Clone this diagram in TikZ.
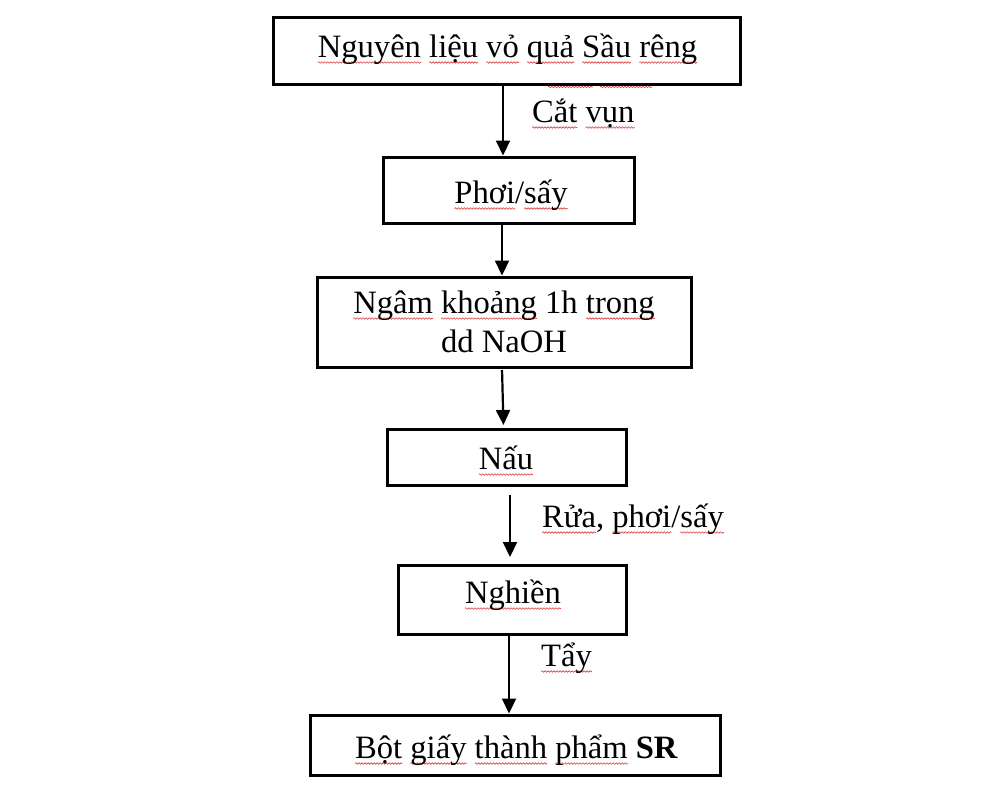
\documentclass[tikz,border=0pt]{standalone}
\usepackage{fontspec}
\setmainfont{Liberation Serif}
\usetikzlibrary{arrows.meta,decorations.pathmorphing}
\definecolor{squig}{rgb}{0.85,0.25,0.25}
\newbox\sqbox
\tikzset{
  lbl/.style={anchor=base, inner sep=0pt, font=\fontsize{32.6}{39}\selectfont},
  sidelbl/.style={lbl, anchor=base west},
  box/.style={draw, line width=3pt, inner sep=0pt},
  arr/.style={line width=2.2pt, -{Triangle[length=15pt,width=14pt]}},
  squigline/.style={draw=squig, line width=0.6pt, decorate, decoration={snake, amplitude=0.8pt, segment length=3pt}}
}
\newcommand\sq[1]{\setbox\sqbox\hbox{#1}\rlap{\tikz[baseline=0pt,x=1pt,y=1pt]{\path (0,0); \draw[squigline, overlay] (0,-5.5) -- (\the\wd\sqbox,-5.5);}}\box\sqbox}
\begin{document}
\begin{tikzpicture}[x=1pt,y=-1pt]
\useasboundingbox (0,0) rectangle (1000,795);
% boxes
\node[box, minimum width=467pt, minimum height=67pt] (b1) at (506.5,50.5) {};
\node[box, minimum width=251pt, minimum height=66pt] (b2) at (508.5,190) {};
\node[box, minimum width=374pt, minimum height=90pt] (b3) at (504,322) {};
\node[box, minimum width=239pt, minimum height=56pt] (b4) at (506.5,457) {};
\node[box, minimum width=228pt, minimum height=69pt] (b5) at (512,599.5) {};
\node[box, minimum width=410pt, minimum height=60pt] (b6) at (515,745) {};
% texts
\node[lbl] (t1) at (507.5,57) {\sq{Nguyên} \sq{liệu} \sq{vỏ} \sq{quả} \sq{Sầu} \sq{rêng}};
\node[lbl] (t2) at (511,203) {\sq{Phơi}/\sq{sấy}};
\node[lbl] (t3a) at (504,313) {\sq{Ngâm} \sq{khoảng} 1h \sq{trong}};
\node[lbl] (t3b) at (504,352) {dd NaOH};
\node[lbl] (t4) at (506,469) {\sq{Nấu}};
\node[lbl] (t5) at (513,603) {\sq{Nghiền}};
\node[lbl] (t6) at (516.5,758) {\sq{Bột} \sq{giấy} \sq{thành} \sq{phẩm} \textbf{SR}};
% side labels
\node[sidelbl] (l1) at (532,122) {\sq{Cắt} \sq{vụn}};
\node[sidelbl] (l2) at (542,527) {\sq{Rửa}, \sq{phơi}/\sq{sấy}};
\node[sidelbl] (l3) at (541,666) {\sq{Tẩy}};
% stray squiggles below top box
\draw[squigline] (548,87) -- (593,87);
\draw[squigline] (600,87) -- (652,87);
% arrow x positions
\coordinate (c1) at (503,0);
\coordinate (c2) at (502,0);
\coordinate (c3a) at (502,0);
\coordinate (c3b) at (503.5,0);
\coordinate (c4) at (510,0);
\coordinate (c5) at (509,0);
% arrows
\draw[arr] (b1.south -| c1) -- (b2.north -| c1);
\draw[arr] (b2.south -| c2) -- (b3.north -| c2);
\draw[arr, shorten <=1.5pt, shorten >=2.5pt] (b3.south -| c3a) -- (b4.north -| c3b);
\draw[arr, shorten <=8.5pt, shorten >=6.5pt] (b4.south -| c4) -- (b5.north -| c4);
\draw[arr] (b5.south -| c5) -- (b6.north -| c5);
\end{tikzpicture}
\end{document}
